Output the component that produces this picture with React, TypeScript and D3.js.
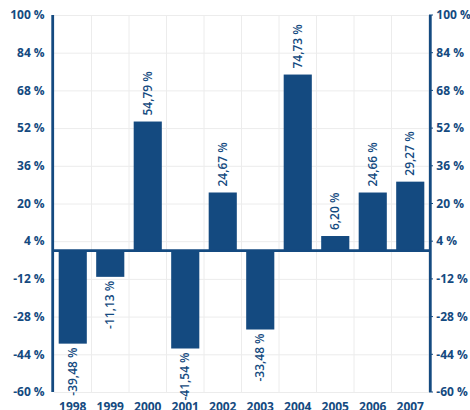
import React, { useEffect, useRef } from "react";
import * as d3 from "d3";

const years = ["1998", "1999", "2000", "2001", "2002", "2003", "2004", "2005", "2006", "2007"];
const returns = [-39.48, -11.13, 54.79, -41.54, 24.67, -33.48, 74.73, 6.2, 24.66, 29.27];
const yTicks = [100, 84, 68, 52, 36, 20, 4, -12, -28, -44, -60];

const BLUE = "#144a80";

const fmt = (v: number) => v.toFixed(2).replace(".", ",") + " %";

const App = () => {
  const svgRef = useRef<SVGSVGElement | null>(null);

  useEffect(() => {
    const width = 470;
    const height = 410;
    const margin = { top: 15, right: 41, bottom: 18, left: 54 };
    const font = "'Open Sans', sans-serif";

    const svg = d3.select(svgRef.current)
      .attr("width", width)
      .attr("height", height);
    svg.selectAll("*").remove();

    const x = d3
      .scaleBand()
      .domain(years)
      .range([margin.left, width - margin.right])
      .paddingInner(0.25)
      .paddingOuter(0.125);

    const y = d3
      .scaleLinear()
      .domain([-60, 100])
      .range([height - margin.bottom, margin.top]);

    const step = x.step();
    const x0 = margin.left;

    // Grid
    const grid = svg.append("g").attr("stroke", "#ececec").attr("stroke-width", 1);
    grid.selectAll(".hg")
      .data(yTicks)
      .enter()
      .append("line")
      .attr("x1", margin.left)
      .attr("x2", width - margin.right)
      .attr("y1", (d) => y(d) + 0.5)
      .attr("y2", (d) => y(d) + 0.5);
    grid.selectAll(".vg")
      .data(years)
      .enter()
      .append("line")
      .attr("x1", (d, i) => x0 + step * (i + 1))
      .attr("x2", (d, i) => x0 + step * (i + 1))
      .attr("y1", y(100))
      .attr("y2", y(-60));

    // Bars
    const data = years.map((year, i) => ({ year, value: returns[i] }));
    svg.selectAll(".bar")
      .data(data)
      .enter()
      .append("rect")
      .attr("class", "bar")
      .attr("x", (d) => x(d.year)!)
      .attr("y", (d) => (d.value >= 0 ? y(d.value) : y(0)))
      .attr("width", x.bandwidth())
      .attr("height", (d) => Math.abs(y(d.value) - y(0)))
      .attr("fill", BLUE);

    // Zero line
    svg.append("line")
      .attr("x1", margin.left)
      .attr("x2", width - margin.right)
      .attr("y1", y(0))
      .attr("y2", y(0))
      .attr("stroke", BLUE)
      .attr("stroke-width", 2.7);

    // Value labels
    svg.selectAll(".lbl")
      .data(data)
      .enter()
      .append("text")
      .attr("transform", (d) => {
        const cx = x(d.year)! + x.bandwidth() / 2;
        const cy = d.value >= 0 ? y(d.value) - 6 : y(d.value) + 4;
        return `translate(${cx},${cy}) rotate(-90)`;
      })
      .attr("text-anchor", (d) => (d.value >= 0 ? "start" : "end"))
      .attr("dy", "0.35em")
      .attr("fill", BLUE)
      .attr("font-family", font)
      .attr("font-size", 12)
      .attr("font-weight", 600)
      .text((d) => fmt(d.value));

    // Axes
    const axes = [
      { xPos: margin.left - 1.3, anchor: "end", tx: -8 },
      { xPos: width - margin.right + 1.3, anchor: "start", tx: 6 },
    ];
    axes.forEach((a) => {
      svg.append("line")
        .attr("x1", a.xPos)
        .attr("x2", a.xPos)
        .attr("y1", y(100))
        .attr("y2", y(-60))
        .attr("stroke", BLUE)
        .attr("stroke-width", 2.8);
      svg.append("g")
        .selectAll("text")
        .data(yTicks)
        .enter()
        .append("text")
        .attr("x", a.xPos + a.tx)
        .attr("y", (d) => y(d))
        .attr("dy", "0.35em")
        .attr("text-anchor", a.anchor)
        .attr("fill", BLUE)
        .attr("font-family", font)
        .attr("font-size", 12)
        .attr("font-weight", 700)
        .text((d) => `${d} %`);
    });

    // Right axis tick marks
    svg.append("g")
      .selectAll("line")
      .data(yTicks)
      .enter()
      .append("line")
      .attr("x1", width - margin.right)
      .attr("x2", width - margin.right + 4)
      .attr("y1", (d) => y(d))
      .attr("y2", (d) => y(d))
      .attr("stroke", BLUE)
      .attr("stroke-width", 1);

    // Year labels
    svg.append("g")
      .selectAll("text")
      .data(years)
      .enter()
      .append("text")
      .attr("x", (d) => x(d)! + x.bandwidth() / 2)
      .attr("y", height + 1)
      .attr("text-anchor", "middle")
      .attr("fill", BLUE)
      .attr("font-family", font)
      .attr("font-size", 12)
      .attr("font-weight", 700)
      .text((d) => d);
  }, []);

  return (
    <div style={{ position: "absolute", left: 0, top: 0 }}>
      <svg ref={svgRef}></svg>
    </div>
  );
};

export default App;
